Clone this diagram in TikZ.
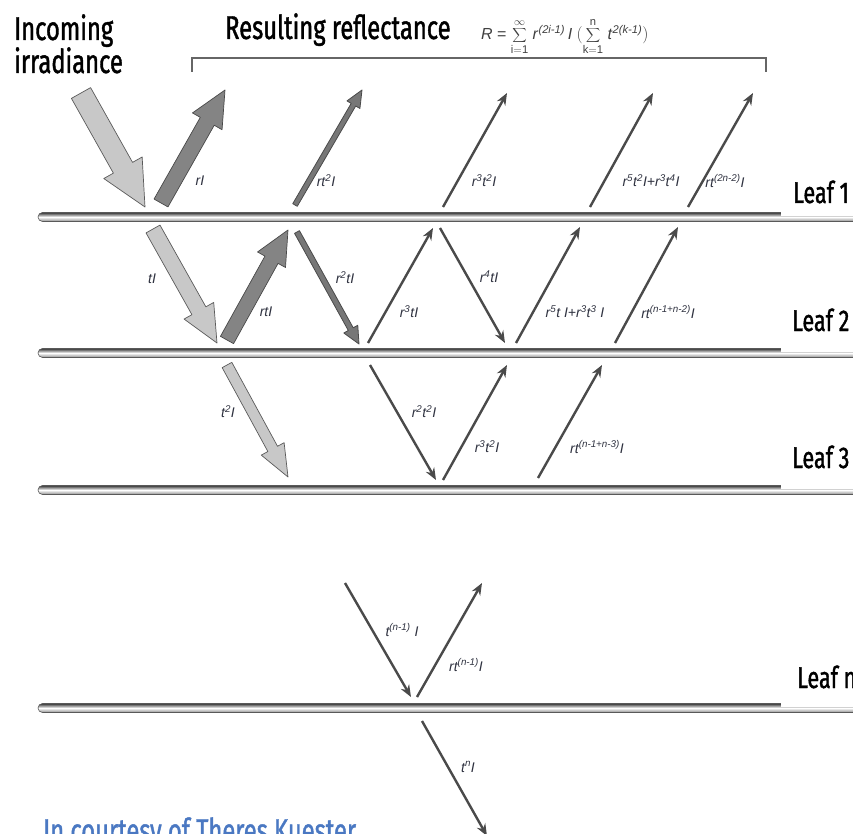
\documentclass[tikz,border=0pt]{standalone}
\usepackage{fontspec}
\setmainfont{Liberation Sans}
\newfontfamily\headfont[FakeStretch=0.72,FakeBold=1.2]{Fira Sans}
\usetikzlibrary{calc,arrows.meta}
\definecolor{lightfill}{HTML}{C8C8C8}
\definecolor{darkfill}{HTML}{848484}
\definecolor{edgec}{HTML}{5A5A5A}
\definecolor{thinc}{HTML}{4A4A4A}
\definecolor{labelc}{HTML}{2F3240}
\definecolor{creditc}{HTML}{4A78C2}
\newcommand\blockarrow[6]{%
  \path ($(#2)!#5!(#1)$) coordinate (hb);
  \draw[#6] ($(#1)!#3!90:(#2)$) -- ($(hb)!#3!90:(#2)$) -- ($(hb)!#4!90:(#2)$) -- (#2)
    -- ($(hb)!#4!-90:(#2)$) -- ($(hb)!#3!-90:(#2)$) -- ($(#1)!#3!-90:(#2)$) -- cycle;}
\newcommand\leafbar[1]{%
  \shade[top color=black!80, bottom color=black!45, middle color=white, rounded corners=4.5pt]
    (38,#1-4.5) rectangle (880,#1+4.5);
  \draw[black!65, line width=0.6pt, rounded corners=4.5pt] (38,#1-4.5) rectangle (880,#1+4.5);
  \fill[white] (781,#1-45) rectangle (860,#1-0.8);}
\begin{document}
\begin{tikzpicture}[x=1pt,y=-1pt,
  lab/.style={font=\fontsize{14}{14}\selectfont\itshape, text=labelc, inner sep=0pt},
  head/.style={font=\headfont\fontsize{33}{35}\selectfont, inner sep=0pt, anchor=base west},
  leaflab/.style={font=\headfont\fontsize{30}{30}\selectfont, inner sep=0pt, anchor=base west},
  thinarrow/.style={draw=thinc, line width=2.4pt, -{Stealth[length=12pt,width=9.5pt]}},
  lightblock/.style={fill=lightfill, draw=edgec, line width=0.7pt, line join=round},
  darkblock/.style={fill=darkfill, draw=edgec!80!black, line width=0.7pt, line join=round},
  slimblock/.style={fill=darkfill!90!black, draw=thinc, line width=0.8pt, line join=round}]
\useasboundingbox (0,0) rectangle (853,834);
\clip (0,0) rectangle (853,834);

% headings
\node[head] (inc1) at (14,40) {Incoming};
\node[head] (inc2) at (14,73) {irradiance};
\node[head] (res) at (225,39) {Resulting reflectance};
\node[inner sep=0pt, anchor=base west, text=black!75, font=\fontsize{16}{16}\selectfont] (form) at (481,40)
  {\textit{R} = $\displaystyle\sum_{\mathrm{i=1}}^{\infty}$ \textit{r}\textsuperscript{\textit{(2i-1)}}\,\textit{I} $\Bigl(\displaystyle\sum_{\mathrm{k=1}}^{\mathrm{n}}$ \textit{t}\textsuperscript{\textit{2(k-1)}}$\Bigr)$};
\coordinate (brL) at (192,72);
\coordinate (brR) at (766,72);
\draw[black!60, line width=1.2pt] (brL) -- ++(0,-14) -| (brR);

% leaves
\leafbar{217}
\leafbar{353}
\leafbar{490}
\leafbar{708}
\node[leaflab] (leaf1) at (793,203) {Leaf 1};
\node[leaflab] (leaf2) at (792,331) {Leaf 2};
\node[leaflab] (leaf3) at (792,468) {Leaf 3};
\node[leaflab] (leafn) at (797,688) {Leaf n};

% coordinates
\coordinate (inT) at (81,93);   \coordinate (inP) at (145,207);
\coordinate (rT) at (161,203);  \coordinate (rP) at (225,90);
\coordinate (a1T) at (295,205); \coordinate (a1P) at (362,90);
\coordinate (a2T) at (443,207); \coordinate (a2P) at (507,93);
\coordinate (a3T) at (590,207); \coordinate (a3P) at (653,93);
\coordinate (a4T) at (688,207); \coordinate (a4P) at (753,93);
\coordinate (tT) at (153,229);  \coordinate (tP) at (217,343);
\coordinate (rtT) at (227,340); \coordinate (rtP) at (288,230);
\coordinate (b1T) at (297,232); \coordinate (b1P) at (359,344);
\coordinate (b2T) at (368,343); \coordinate (b2P) at (433,228);
\coordinate (b3T) at (440,228); \coordinate (b3P) at (505,343);
\coordinate (b4T) at (516,343); \coordinate (b4P) at (580,227);
\coordinate (b5T) at (615,343); \coordinate (b5P) at (678,227);
\coordinate (ttT) at (227,365); \coordinate (ttP) at (288,477);
\coordinate (c1T) at (370,365); \coordinate (c1P) at (436,480);
\coordinate (c2T) at (443,480); \coordinate (c2P) at (507,365);
\coordinate (c3T) at (538,478); \coordinate (c3P) at (602,365);
\coordinate (d1T) at (345,583); \coordinate (d1P) at (411,697);
\coordinate (d2T) at (417,697); \coordinate (d2P) at (482,583);
\coordinate (d3T) at (422,721); \coordinate (d3P) at (487,836);

% block arrows
\blockarrow{inT}{inP}{11pt}{22pt}{45pt}{lightblock}
\blockarrow{rT}{rP}{8pt}{17pt}{36pt}{darkblock}
\blockarrow{tT}{tP}{8pt}{17pt}{37pt}{lightblock}
\blockarrow{rtT}{rtP}{7.5pt}{16pt}{34pt}{darkblock}
\blockarrow{ttT}{ttP}{5.5pt}{13pt}{32pt}{lightblock}
\blockarrow{a1T}{a1P}{2.6pt}{7.5pt}{17pt}{slimblock}
\blockarrow{b1T}{b1P}{2.8pt}{8pt}{17pt}{slimblock}

% thin arrows
\draw[thinarrow] (a2T) -- (a2P);
\draw[thinarrow] (a3T) -- (a3P);
\draw[thinarrow] (a4T) -- (a4P);
\draw[thinarrow] (b2T) -- (b2P);
\draw[thinarrow] (b3T) -- (b3P);
\draw[thinarrow] (b4T) -- (b4P);
\draw[thinarrow] (b5T) -- (b5P);
\draw[thinarrow] (c1T) -- (c1P);
\draw[thinarrow] (c2T) -- (c2P);
\draw[thinarrow] (c3T) -- (c3P);
\draw[thinarrow] (d1T) -- (d1P);
\draw[thinarrow] (d2T) -- (d2P);
\draw[thinarrow] (d3T) -- (d3P);

% labels
\node[lab] (lrI) at (200,181) {rI};
\node[lab] (lrt2) at (326,181) {rt\textsuperscript{2}I};
\node[lab] (lr3t2) at (484,181) {r\textsuperscript{3}t\textsuperscript{2}I};
\node[lab] (lr5) at (651,181) {r\textsuperscript{5}t\textsuperscript{2}I+r\textsuperscript{3}t\textsuperscript{4}I};
\node[lab] (lr2n) at (725,181) {rt\textsuperscript{(2n-2)}I};
\node[lab] (ltI) at (152,279) {tI};
\node[lab] (lrtI) at (266,312) {rtI};
\node[lab] (lr2tI) at (345,278) {r\textsuperscript{2}tI};
\node[lab] (lr3tI) at (409,312) {r\textsuperscript{3}tI};
\node[lab] (lr4tI) at (489,277) {r\textsuperscript{4}tI};
\node[lab] (lr5tI) at (575,312) {r\textsuperscript{5}t I+r\textsuperscript{3}t\textsuperscript{3} I};
\node[lab] (lrn2) at (668,312) {rt\textsuperscript{(n-1+n-2)}I};
\node[lab] (lt2I) at (228,412) {t\textsuperscript{2}I};
\node[lab] (lr2t2) at (424,412) {r\textsuperscript{2}t\textsuperscript{2}I};
\node[lab] (lr3t2b) at (487,447) {r\textsuperscript{3}t\textsuperscript{2}I};
\node[lab] (lrn3) at (597,447) {rt\textsuperscript{(n-1+n-3)}I};
\node[lab] (ltn1) at (402,630) {t\textsuperscript{(n-1)} I};
\node[lab] (lrtn1) at (466,665) {rt\textsuperscript{(n-1)}I};
\node[lab] (ltn) at (468,767) {t\textsuperscript{n}I};

% credit
\node[head, text=creditc] (credit) at (43,842) {In courtesy of Theres Kuester};
\end{tikzpicture}
\end{document}
